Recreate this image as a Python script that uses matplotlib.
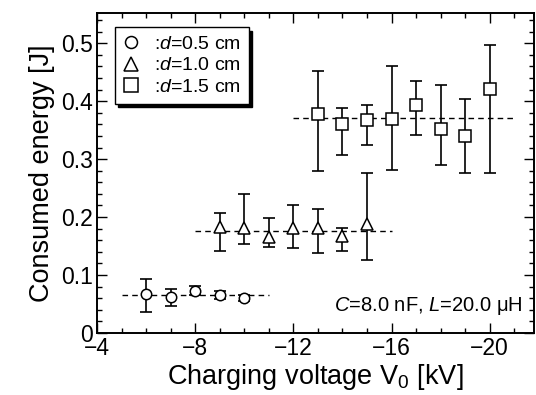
import matplotlib
matplotlib.use('Agg')
import matplotlib.pyplot as plt
from matplotlib.ticker import MultipleLocator, FixedLocator, FixedFormatter
import numpy as np

plt.rcParams['font.family'] = ['Liberation Sans', 'DejaVu Sans']
plt.rcParams['mathtext.fontset'] = 'custom'
plt.rcParams['mathtext.rm'] = 'Liberation Sans'
plt.rcParams['mathtext.it'] = 'Liberation Sans:italic'

# d = 0.5 cm
v_05 = [-6, -7, -8, -9, -10]
e_05 = [0.067, 0.062, 0.072, 0.066, 0.060]
lo_05 = [0.036, 0.047, 0.066, 0.058, 0.055]
hi_05 = [0.093, 0.076, 0.081, 0.073, 0.065]
mean_05 = 0.065
span_05 = [-5, -11]

# d = 1.0 cm
v_10 = [-9, -10, -11, -12, -13, -14, -15]
e_10 = [0.182, 0.181, 0.166, 0.181, 0.181, 0.167, 0.188]
lo_10 = [0.141, 0.153, 0.148, 0.147, 0.138, 0.141, 0.126]
hi_10 = [0.207, 0.240, 0.198, 0.221, 0.214, 0.181, 0.276]
mean_10 = 0.176
span_10 = [-8, -16]

# d = 1.5 cm
v_15 = [-13, -14, -15, -16, -17, -18, -19, -20]
e_15 = [0.377, 0.360, 0.367, 0.369, 0.393, 0.352, 0.340, 0.421]
lo_15 = [0.279, 0.307, 0.324, 0.281, 0.341, 0.290, 0.276, 0.276]
hi_15 = [0.452, 0.388, 0.393, 0.460, 0.434, 0.427, 0.404, 0.496]
mean_15 = 0.371
span_15 = [-12, -21]

x_ticks = [-4, -8, -12, -16, -20]
y_ticks = [0, 0.1, 0.2, 0.3, 0.4, 0.5]
y_labels = ['0', '0.1', '0.2', '0.3', '0.4', '0.5']

fig = plt.figure(figsize=(5.36, 3.95), dpi=100)
ax = fig.add_axes([0.181, 0.157, 0.815, 0.810])

series = [
    (v_05, e_05, lo_05, hi_05, mean_05, span_05, 'o', 7.5, ':$d$=0.5 cm'),
    (v_10, e_10, lo_10, hi_10, mean_10, span_10, '^', 8.5, ':$d$=1.0 cm'),
    (v_15, e_15, lo_15, hi_15, mean_15, span_15, 's', 8.5, ':$d$=1.5 cm'),
]

handles = []
for v, e, lo, hi, m, span, mk, ms, lab in series:
    e = np.array(e)
    yerr = [e - np.array(lo), np.array(hi) - e]
    ax.plot(span, [m, m], color='black', lw=1.0, ls=(0, (4, 3)), zorder=1)
    ax.errorbar(v, e, yerr=yerr, fmt='none', ecolor='black', elinewidth=1.2,
                capsize=4.5, capthick=1.2, zorder=2)
    h, = ax.plot(v, e, ls='none', marker=mk, ms=ms, mfc='white', mec='black',
                 mew=1.1, zorder=3, label=lab)
    handles.append(h)

ax.set_xlim(-4, -21.8)
ax.set_ylim(0, 0.552)

ax.xaxis.set_major_locator(FixedLocator(x_ticks))
ax.xaxis.set_minor_locator(MultipleLocator(1))
ax.yaxis.set_major_locator(FixedLocator(y_ticks))
ax.yaxis.set_major_formatter(FixedFormatter(y_labels))
ax.yaxis.set_minor_locator(MultipleLocator(0.02))

ax.tick_params(which='both', direction='in', top=True, right=True, labelsize=16.5, width=1.0)
ax.tick_params(which='major', length=7, pad=3)
ax.tick_params(which='minor', length=3.5)
for s in ax.spines.values():
    s.set_linewidth(1.4)

ax.set_xlabel('Charging voltage V$_0$ [kV]', fontsize=19.5, labelpad=1)
ax.set_ylabel('Consumed energy [J]', fontsize=19.5, labelpad=4)

ax.text(0.975, 0.085, '$C$=8.0 nF, $L$=20.0 μH', transform=ax.transAxes,
        ha='right', va='center', fontsize=14.5)

leg = ax.legend(handles=handles, loc='upper left', bbox_to_anchor=(0.041, 0.955),
                fontsize=14, frameon=True, fancybox=False,
                shadow={'color': 'black', 'alpha': 1.0, 'ox': 2.5, 'oy': -2.5},
                handlelength=0.85, handletextpad=0.75, borderpad=0.4, labelspacing=0.2,
                borderaxespad=0, markerscale=1.15)
leg.get_frame().set_edgecolor('black')
leg.get_frame().set_linewidth(1.0)

plt.savefig('out.png', dpi=100)
plt.close()
